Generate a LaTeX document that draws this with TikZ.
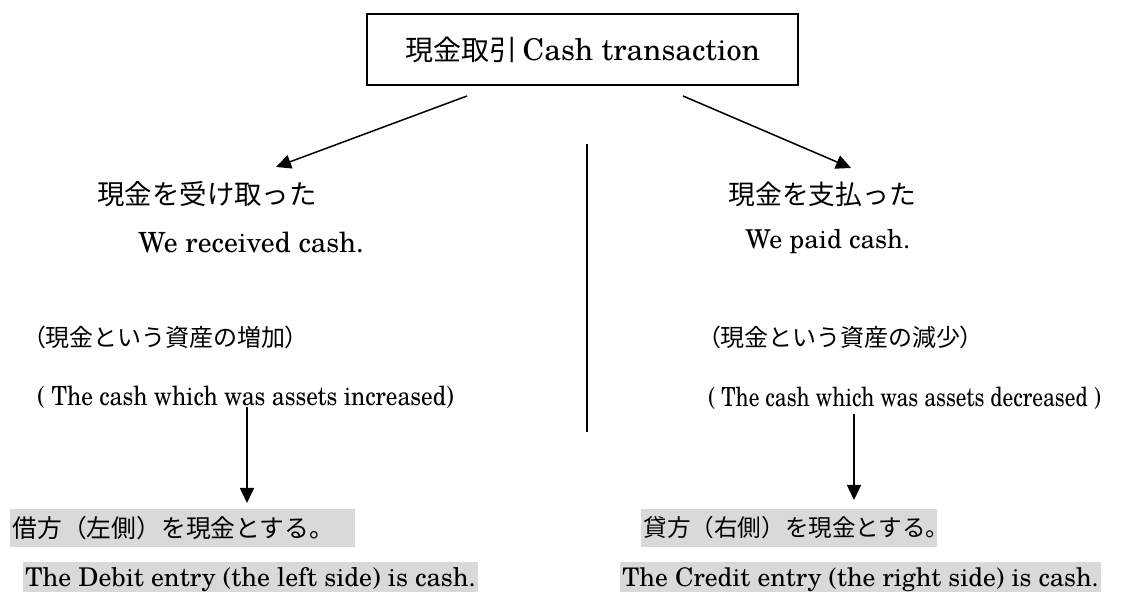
\documentclass[tikz,border=0pt]{standalone}
\usepackage{fontspec}
\setmainfont{texgyreschola}[Extension=.otf, UprightFont=*-regular, BoldFont=*-bold, ItalicFont=*-italic, BoldItalicFont=*-bolditalic]
\newfontfamily\condA{texgyreschola}[Extension=.otf, UprightFont=*-regular, FakeStretch=0.88]
\newfontfamily\condB{texgyreschola}[Extension=.otf, UprightFont=*-regular, FakeStretch=0.81]
\newfontfamily\jp{Noto Sans CJK JP}
\newfontfamily\jpp{Noto Sans CJK JP}[RawFeature=+palt]
\usetikzlibrary{arrows.meta}
\definecolor{hl}{HTML}{D9D9D9}
\newcommand\fsz[1]{\fontsize{#1}{#1}\selectfont}
\tikzset{
  lbl/.style={anchor=west, inner sep=0pt, text=black},
  hlbox/.style={anchor=west, fill=hl, inner xsep=1pt, inner ysep=0pt, align=left},
  titlebox/.style={draw, line width=1pt, minimum width=215.5pt, minimum height=35.5pt, inner sep=0pt},
  arr/.style={line width=0.75pt, -{Triangle[length=7.5pt, width=7pt]}},
  divider/.style={line width=1pt}
}
\begin{document}
\begin{tikzpicture}[x=0.5pt, y=-0.5pt]
\useasboundingbox (0,0) rectangle (1145,592);
\node[titlebox] (title) at (582.5,49.5) {{\jp\fsz{14}現金取引} {\fsz{15}Cash transaction}};

\node[lbl] (recvjp) at (97,194) {\jp\fsz{13.7}現金を受け取った};
\node[lbl] (recven) at (138,242) {\fsz{13.9}We received cash.};
\node[lbl] (paidjp) at (728,194) {\jp\fsz{13.4}現金を支払った};
\node[lbl] (paiden) at (745,242) {\fsz{13}We paid cash.};

\node[lbl] (incjp) at (33,337) {\jp\fsz{12}{\jpp （}現金という資産の増加{\jpp ）}};
\node[lbl] (incen) at (37,397) {\condA\fsz{13.2}( The cash which was assets increased)};
\node[lbl] (decjp) at (708,337) {\jp\fsz{12}{\jpp （}現金という資産の減少{\jpp ）}};
\node[lbl] (decen) at (708,398) {\condB\fsz{13.2}( The cash which was assets decreased )};

\node[hlbox, minimum height=19pt, text width=170.5pt] (debjp) at (10,528) {\jp\fsz{12.4}借方（左側）を現金とする。};
\node[hlbox, minimum height=17.5pt] (deben) at (23,579.5) {\fsz{12.9}The Debit entry (the left side) is cash.};
\node[hlbox, minimum height=19pt, text width=146pt] (crejp) at (641,528) {\jp\fsz{11.8}貸方（右側）を現金とする。};
\node[hlbox, minimum height=17.5pt] (creen) at (620,579.5) {\fsz{12.8}The Credit entry (the right side) is cash.};

\coordinate (la) at (467,96);
\coordinate (lb) at (276,167);
\coordinate (ra) at (683,96);
\coordinate (rb) at (851,168);
\coordinate (da) at (587,144);
\coordinate (db) at (587,432);
\coordinate (ia) at (247,407);
\coordinate (ib) at (247,503);
\coordinate (ja) at (854,414);
\coordinate (jb) at (854,500);

\draw[arr] (la) -- (lb);
\draw[arr] (ra) -- (rb);
\draw[divider] (da) -- (db);
\draw[arr] (ia) -- (ib);
\draw[arr] (ja) -- (jb);
\end{tikzpicture}
\end{document}
